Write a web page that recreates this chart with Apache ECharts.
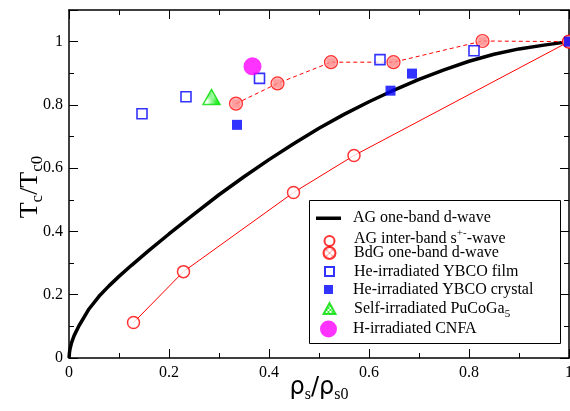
<!DOCTYPE html>
<html>
<head>
<meta charset="utf-8">
<script src="https://cdn.jsdelivr.net/npm/echarts@6/dist/echarts.min.js"></script>
<style>
html, body { margin: 0; padding: 0; background: #fff; }
#main { width: 570px; height: 411px; }
</style>
</head>
<body>
<div id="main"></div>
<script>
// values: [rho_s/rho_s0, Tc/Tc0]
var agDwave = [[0,0],[0.001,0.018],[0.002,0.028],[0.005,0.048],[0.01,0.07],[0.02,0.102],[0.04,0.155],
  [0.06,0.195],[0.08,0.228],[0.1,0.258],[0.125,0.293],[0.16,0.34],[0.2,0.392],[0.25,0.455],[0.3,0.516],
  [0.35,0.573],[0.4,0.627],[0.45,0.678],[0.5,0.726],[0.55,0.77],[0.6,0.81],[0.65,0.847],[0.7,0.881],
  [0.75,0.911],[0.8,0.938],[0.85,0.96],[0.9,0.977],[0.95,0.989],[1,1]];
var agSpm = [[0.129,0.112],[0.229,0.273],[0.449,0.523],[0.57,0.64],[1,1]];
var bdgDwave = [[0.334,0.804],[0.417,0.868],[0.524,0.935],[0.649,0.935],[0.827,1.002],[1,1]];
var ybcoFilm = [[0.146,0.772],[0.234,0.826],[0.381,0.884],[0.622,0.943],[0.81,0.971]];
var ybcoCrystal = [[0.336,0.737],[0.643,0.845],[0.686,0.899],[1,1]];
var puCoGa = [[0.285,0.825]];
var cnfa = [[0.367,0.922]];

var xTicks = [0, 0.2, 0.4, 0.6, 0.8, 1];
var yTicks = [0, 0.2, 0.4, 0.6, 0.8, 1];

var serif = "'Liberation Serif', 'Times New Roman', serif";

function hatch(color) {
  var c = document.createElement('canvas');
  c.width = 6; c.height = 6;
  var g = c.getContext('2d');
  g.fillStyle = '#fff';
  g.fillRect(0, 0, 6, 6);
  g.strokeStyle = color;
  g.lineWidth = 0.6;
  g.beginPath();
  g.moveTo(0, 0); g.lineTo(6, 6);
  g.moveTo(6, 0); g.lineTo(0, 6);
  g.stroke();
  return { image: c, repeat: 'repeat' };
}
function checker(color) {
  var c = document.createElement('canvas');
  c.width = 4; c.height = 4;
  var g = c.getContext('2d');
  g.fillStyle = '#fff';
  g.fillRect(0, 0, 4, 4);
  g.fillStyle = color;
  g.fillRect(0, 0, 2, 2);
  g.fillRect(2, 2, 2, 2);
  return { image: c, repeat: 'repeat' };
}

function tickFmt(list) {
  return function (v) {
    for (var i = 0; i < list.length; i++) {
      if (Math.abs(list[i] - v) < 1e-6) return String(list[i]);
    }
    return '';
  };
}

var names = ['AG one-band d-wave', 'AG inter-band s+--wave', 'BdG one-band d-wave',
  'He-irradiated YBCO film', 'He-irradiated YBCO crystal', 'Self-irradiated PuCoGa5', 'H-irradiated CNFA'];
var labels = ['AG one-band d-wave', 'AG inter-band s{sup|+-}-wave', 'BdG one-band d-wave',
  'He-irradiated YBCO film', 'He-irradiated YBCO crystal', 'Self-irradiated PuCoGa{sub|5}', 'H-irradiated CNFA'];
var legendY = [212, 233, 251, 268, 286, 306, 329];
var legendW = [25, 10, 12, 9, 9, 12, 17];
var legendH = [3.5, 10, 12, 9, 9, 11, 17];
var legendPadB = [0, 5, 0, 0, 0, 0, 0];

var legends = names.map(function (n, i) {
  var w = legendW[i];
  return {
    data: [i === 0 ? { name: n, icon: 'rect' } : n],
    left: 328.5 - w / 2,
    top: legendY[i] - legendH[i] / 2,
    padding: 0,
    itemWidth: w,
    itemHeight: legendH[i],
    z: 10,
    selectedMode: false,
    formatter: function () { return labels[i]; },
    textStyle: {
      fontFamily: serif, fontSize: 16, color: '#000',
      padding: [0, 0, legendPadB[i], 353 - (328.5 + w / 2) - 5],
      rich: {
        sup: { fontFamily: serif, fontSize: 11, padding: [0, 0, 10, 0] },
        sub: { fontFamily: serif, fontSize: 11, padding: [12, 0, 0, 0] }
      }
    }
  };
});

var axisCommon = {
  type: 'value', min: 0,
  splitLine: { show: false },
  axisLine: { show: true, onZero: false, lineStyle: { color: '#000', width: 1.5 } },
  axisTick: { show: true, inside: true, length: 9, lineStyle: { color: '#000', width: 1 } },
  minorTick: { show: true, splitNumber: 2, length: 5, lineStyle: { color: '#000', width: 1 } }
};

var chart = echarts.init(document.getElementById('main'));
chart.setOption({
  animation: false,
  textStyle: { fontFamily: serif },
  grid: { left: 69, right: 1, top: 10, bottom: 53, outerBoundsMode: 'none' },
  legend: legends,
  graphic: [
    {
      type: 'rect', z: 3,
      shape: { x: 309.5, y: 200.5, width: 251, height: 143 },
      style: { fill: '#fff', stroke: '#000', lineWidth: 1 }
    },
    {
      type: 'text', x: 319, y: 388, z: 5,
      style: {
        text: '{r|ρ}{s|s}{r|/ρ}{s|s0}', align: 'center', verticalAlign: 'middle',
        rich: {
          r: { fontFamily: 'DejaVu Sans', fontSize: 24, fill: '#000' },
          s: { fontFamily: serif, fontSize: 16, fill: '#000', padding: [14, 0, 0, 0] }
        }
      }
    },
    {
      type: 'text', x: 30, y: 187, rotation: Math.PI / 2, z: 5,
      style: {
        text: '{t|T}{s|c}{t|/T}{s|c0}', align: 'center', verticalAlign: 'middle',
        rich: {
          t: { fontFamily: serif, fontSize: 26, fill: '#000' },
          s: { fontFamily: serif, fontSize: 17, fill: '#000', padding: [15, 0, 0, 0] }
        }
      }
    }
  ],
  xAxis: [
    Object.assign({}, axisCommon, {
      max: 1, interval: 0.2,
      axisLabel: { fontFamily: serif, fontSize: 16, color: '#000', margin: 7, formatter: tickFmt(xTicks) }
    }),
    Object.assign({}, axisCommon, {
      max: 1, interval: 0.2, position: 'top',
      axisLabel: { show: false }
    })
  ],
  yAxis: [
    Object.assign({}, axisCommon, {
      max: 1.1, interval: 0.2,
      axisLabel: { fontFamily: serif, fontSize: 16, color: '#000', margin: 6, formatter: tickFmt(yTicks) }
    }),
    Object.assign({}, axisCommon, {
      max: 1.1, interval: 0.2, position: 'right',
      axisLabel: { show: false }
    })
  ],
  series: [
    {
      name: names[0], type: 'line', data: agDwave, symbol: 'none', smooth: false,
      lineStyle: { color: '#000', width: 3.5 }, itemStyle: { color: '#000' }, z: 2
    },
    {
      type: 'line', data: agSpm, symbol: 'none',
      lineStyle: { color: '#ff0000', width: 1 }, z: 2
    },
    {
      type: 'line', data: bdgDwave, symbol: 'none',
      lineStyle: { color: '#ff0000', width: 1, type: [4, 3] }, z: 2
    },
    {
      name: names[1], type: 'scatter', data: agSpm, symbol: 'circle', symbolSize: 12,
      itemStyle: { color: '#fff', borderColor: '#ff0000', borderWidth: 1.5 }, z: 3
    },
    {
      name: names[2], type: 'scatter', data: bdgDwave, symbol: 'circle', symbolSize: 13,
      itemStyle: { color: hatch('#ff3030'), borderColor: '#ff0000', borderWidth: 1.2 }, z: 3
    },
    {
      name: names[3], type: 'scatter', data: ybcoFilm, symbol: 'rect', symbolSize: 10,
      itemStyle: { color: '#fff', borderColor: '#0000ff', borderWidth: 1.6 }, z: 4
    },
    {
      name: names[4], type: 'scatter', data: ybcoCrystal, symbol: 'rect', symbolSize: 10,
      itemStyle: { color: '#0000ff' }, z: 4
    },
    {
      name: names[5], type: 'scatter', data: puCoGa, symbol: 'triangle', symbolSize: [17, 15],
      itemStyle: { color: checker('#00ee00'), borderColor: '#00dd00', borderWidth: 1.5 }, z: 4
    },
    {
      name: names[6], type: 'scatter', data: cnfa, symbol: 'circle', symbolSize: 18,
      itemStyle: { color: '#ff00ff' }, z: 4
    }
  ]
});
</script>
</body>
</html>
